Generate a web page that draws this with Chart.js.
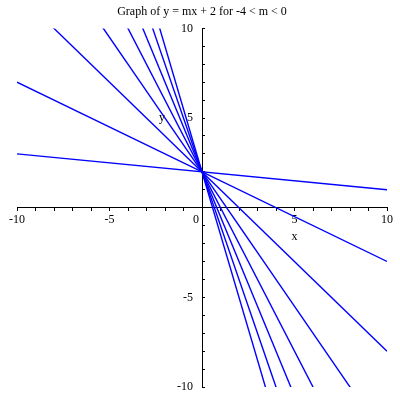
<!DOCTYPE html>
<html>
<head>
<meta charset="utf-8">
<script src="https://cdn.jsdelivr.net/npm/chart.js@4"></script>
<style>
html, body { margin: 0; padding: 0; background: #fff; }
#wrap { width: 400px; height: 400px; }
</style>
</head>
<body>
<div id="wrap"><canvas id="lineChart"></canvas></div>
<script>

/* DATA */

const slopes = [-0.1, -0.5, -1, -1.5, -2, -2.5, -3, -3.5];
const xEnds = [-10, 10];
const yAtLeft = [3, 7, 12, 17, 22, 27, 32, 37];
const yAtRight = [1, -3, -8, -13, -18, -23, -28, -33];
const tickLabels = [-10, -5, 0, 5, 10];

const serif = "'Liberation Serif', 'Times New Roman', serif";

/* AXIS NAMES x AND y */

const axisNames = {
id: "axisNames",
afterDraw(chart) {
const ctx = chart.ctx;
const xs = chart.scales.x;
const ys = chart.scales.y;
ctx.save();
ctx.font = "12px " + serif;
ctx.fillStyle = "#000";
ctx.textAlign = "center";
ctx.textBaseline = "middle";
ctx.fillText("x", xs.getPixelForValue(5), ys.getPixelForValue(0) + 29);
ctx.fillText("y", xs.getPixelForValue(0) - 40, ys.getPixelForValue(5));
ctx.restore();
}
};

const datasets = slopes.map(function (m, i) {
return {
label: "m = " + m,
data: [
{ x: xEnds[0], y: yAtLeft[i] },
{ x: xEnds[1], y: yAtRight[i] }
],
showLine: true,
borderColor: "#0000ff",
borderWidth: 1.4,
pointRadius: 0,
fill: false
};
});

new Chart(document.getElementById("lineChart"), {

type: "scatter",

data: { datasets: datasets },

plugins: [axisNames],

options: {

responsive: true,
maintainAspectRatio: false,
animation: false,
events: [],

layout: {
padding: { left: 17, right: 13, top: 0, bottom: 13 }
},

plugins: {
legend: { display: false },
tooltip: { enabled: false },
title: {
display: true,
text: "Graph of y = mx + 2 for -4 < m < 0",
color: "#000",
font: { family: serif, size: 12, weight: "normal" },
padding: { top: 5, bottom: 9 }
}
},

scales: {
x: {
type: "linear",
min: -10,
max: 10,
position: { y: 0 },
border: { display: true, color: "#000", width: 1 },
grid: { drawOnChartArea: false, drawTicks: true, tickLength: 3, color: "#000" },
ticks: {
stepSize: 1,
autoSkip: false,
maxRotation: 0,
padding: 2,
color: "#000",
font: { family: serif, size: 12 },
callback: function (v) {
if (!tickLabels.includes(v)) return "";
return v === 0 ? "0    " : String(v);
}
}
},
y: {
type: "linear",
min: -10,
max: 10,
position: { x: 0 },
border: { display: true, color: "#000", width: 1 },
grid: { drawOnChartArea: false, drawTicks: true, tickLength: -3, color: "#000" },
ticks: {
stepSize: 1,
autoSkip: false,
color: "#000",
font: { family: serif, size: 12 },
callback: function (v) {
return tickLabels.includes(v) && v !== 0 ? String(v) + "   " : "";
}
}
}
}

}

});

</script>
</body>
</html>
